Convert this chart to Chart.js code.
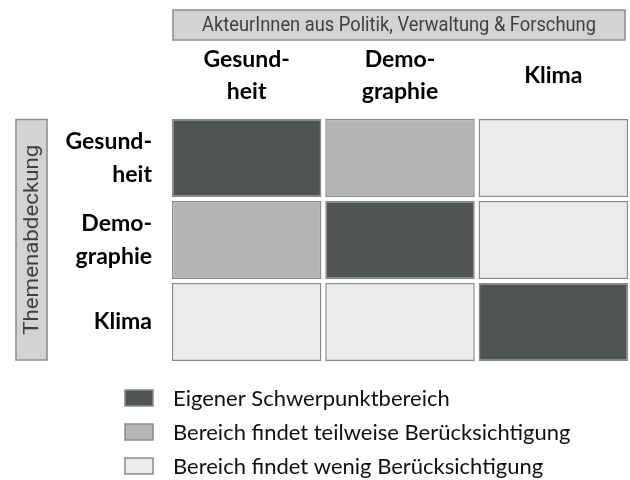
<!DOCTYPE html>
<html>
<head>
<meta charset="utf-8">
<script src="https://cdn.jsdelivr.net/npm/chart.js@4"></script>
<style>
  body { margin: 0; background: #fff; }
  #wrap { width: 630px; height: 480px; }
</style>
</head>
<body>
<div id="wrap"><canvas id="myChart"></canvas></div>
<script>
// columns = actors, rows = topic coverage
const colLabels = [['Gesund-', 'heit'], ['Demo-', 'graphie'], 'Klima'];
const rowLabels = [['Gesund-', 'heit'], ['Demo-', 'graphie'], 'Klima'];
// 2 = eigener Schwerpunkt, 1 = teilweise, 0 = wenig
const levels = [
  [2, 1, 0],
  [1, 2, 0],
  [0, 0, 2]
];
const legendLevels = [2, 1, 0];
const legendNames = [
  'Eigener Schwerpunktbereich',
  'Bereich findet teilweise Berücksichtigung',
  'Bereich findet wenig Berücksichtigung'
];
const topTitle = 'AkteurInnen aus Politik, Verwaltung & Forschung';
const sideTitle = 'Themenabdeckung';

const levelColors = ['#ececeb', '#b3b5b6', '#505354'];
const edge = '#8a8a8a';
const gap = 0.025;
const boldFont = { family: 'Lato', size: 23, weight: 'bold', lineHeight: 1.4 };

const datasets = rowLabels.map((r, i) => ({
  label: Array.isArray(r) ? r.join('') : r,
  data: colLabels.map(() => [i + gap, i + 1 - gap]),
  backgroundColor: levels[i].map(l => levelColors[l]),
  borderColor: edge,
  borderWidth: 1.5,
  borderSkipped: false,
  grouped: false,
  barPercentage: 0.975,
  categoryPercentage: 1
}));

// draws narrow text squeezed to a given width
function narrowText(ctx, text, cx, cy, width, rot) {
  ctx.save();
  ctx.translate(cx, cy);
  ctx.rotate(rot || 0);
  ctx.font = '21px Roboto';
  const w = ctx.measureText(text).width;
  ctx.scale(width / w, 1);
  ctx.fillStyle = '#3f3f3f';
  ctx.textAlign = 'center';
  ctx.textBaseline = 'middle';
  ctx.fillText(text, 0, 1);
  ctx.restore();
}

const frame = {
  id: 'frame',
  afterDraw(chart) {
    const { ctx, chartArea: a } = chart;
    ctx.save();
    ctx.lineWidth = 1.5;
    ctx.strokeStyle = '#8c8c8c';
    ctx.fillStyle = '#d3d3d3';

    // box over the columns
    const hx = a.left + 3, hy = 10, hw = a.right - 5 - hx, hh = 30;
    ctx.fillRect(hx, hy, hw, hh);
    ctx.strokeRect(hx, hy, hw, hh);
    narrowText(ctx, topTitle, hx + hw / 2, hy + hh / 2, 394);

    // box left of the rows
    const sx = 16, sy = a.top + 2.5, sw = 31, sh = a.bottom - 3 - sy;
    ctx.fillStyle = '#d3d3d3';
    ctx.fillRect(sx, sy, sw, sh);
    ctx.strokeRect(sx, sy, sw, sh);
    narrowText(ctx, sideTitle, sx + sw / 2, sy + sh / 2, 190, -Math.PI / 2);

    // legend
    ctx.font = '22px Lato';
    ctx.textBaseline = 'middle';
    ctx.textAlign = 'left';
    legendLevels.forEach((l, i) => {
      const yc = 398 + i * 34;
      ctx.fillStyle = levelColors[l];
      ctx.fillRect(125, yc - 8, 28, 16);
      ctx.strokeStyle = edge;
      ctx.strokeRect(125, yc - 8, 28, 16);
      ctx.fillStyle = '#111';
      ctx.fillText(legendNames[i], 173, yc + 1);
    });
    ctx.restore();
  }
};

const ctx = document.getElementById('myChart');
new Chart(ctx, {
  type: 'bar',
  data: { labels: colLabels, datasets: datasets },
  options: {
    responsive: true,
    maintainAspectRatio: false,
    animation: false,
    layout: { padding: { top: 0, bottom: 117, left: 0, right: 0 } },
    plugins: { legend: { display: false }, tooltip: { enabled: false } },
    scales: {
      x: {
        position: 'top',
        grid: { display: false, drawTicks: false },
        border: { display: false },
        ticks: { font: boldFont, color: '#000', padding: 25, crossAlign: 'center', maxRotation: 0 },
        afterFit: s => { s.height = 117; }
      },
      y: {
        min: 0,
        max: 3,
        reverse: true,
        grid: { display: false, drawTicks: false },
        border: { display: false },
        afterBuildTicks: s => { s.ticks = rowLabels.map((_, i) => ({ value: i + 0.5 })); },
        ticks: {
          font: boldFont,
          color: '#000',
          padding: 18,
          callback: v => rowLabels[Math.floor(v)]
        },
        afterFit: s => { s.width = 170; }
      }
    }
  },
  plugins: [frame]
});
</script>
</body>
</html>
